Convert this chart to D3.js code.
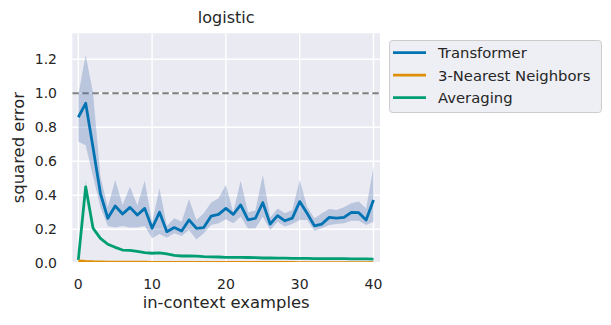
<!DOCTYPE html>
<html>
<head>
<meta charset="utf-8">
<script src="https://cdn.jsdelivr.net/npm/d3@7"></script>
<style>
  body { margin: 0; background: #fff; }
  text { font-family: "DejaVu Sans", sans-serif; fill: #262626; }
</style>
</head>
<body>
<div id="chart"></div>
<script>
// in-context examples on x
var examples = d3.range(0, 41);
var xTicks = [0, 10, 20, 30, 40];
var yTicks = [0.0, 0.2, 0.4, 0.6, 0.8, 1.0, 1.2];
var seriesNames = ["Transformer", "3-Nearest Neighbors", "Averaging"];
var seriesColors = ["#0173b2", "#de8f05", "#029e73"];

// values
var transformer = [0.859, 0.941, 0.68, 0.41, 0.265, 0.337, 0.29, 0.329, 0.284, 0.323,
    0.206, 0.30, 0.186, 0.21, 0.19, 0.255, 0.206, 0.21, 0.278, 0.288,
    0.323, 0.288, 0.343, 0.255, 0.265, 0.357, 0.231, 0.28, 0.25, 0.266,
    0.363, 0.294, 0.22, 0.231, 0.27, 0.266, 0.27, 0.30, 0.298, 0.255, 0.372];
var transformerHi = [0.99, 1.225, 1.0, 0.51, 0.33, 0.49, 0.343, 0.45, 0.34, 0.486,
    0.24, 0.44, 0.22, 0.265, 0.245, 0.378, 0.255, 0.294, 0.357, 0.382,
    0.461, 0.30, 0.486, 0.30, 0.31, 0.519, 0.27, 0.323, 0.294, 0.314,
    0.49, 0.333, 0.265, 0.294, 0.32, 0.314, 0.33, 0.353, 0.363, 0.323, 0.568];
var transformerLo = [0.715, 0.695, 0.51, 0.33, 0.22, 0.21, 0.22, 0.21, 0.21, 0.22,
    0.148, 0.172, 0.15, 0.176, 0.16, 0.196, 0.14, 0.176, 0.225, 0.235,
    0.259, 0.235, 0.274, 0.204, 0.206, 0.274, 0.196, 0.245, 0.216, 0.231,
    0.255, 0.255, 0.192, 0.206, 0.225, 0.231, 0.235, 0.25, 0.25, 0.225, 0.245];
var knn = [0.014, 0.011, 0.009, 0.008, 0.007, 0.007, 0.006, 0.006, 0.006, 0.006,
    0.005, 0.005, 0.005, 0.005, 0.005, 0.005, 0.005, 0.005, 0.005, 0.005,
    0.005, 0.005, 0.005, 0.005, 0.005, 0.005, 0.005, 0.005, 0.005, 0.005,
    0.004, 0.004, 0.004, 0.004, 0.004, 0.004, 0.004, 0.004, 0.004, 0.004, 0.004];
var averaging = [0.02, 0.45, 0.206, 0.147, 0.112, 0.094, 0.078, 0.076, 0.07, 0.063,
    0.059, 0.061, 0.055, 0.047, 0.043, 0.043, 0.042, 0.039, 0.038, 0.037,
    0.035, 0.035, 0.035, 0.034, 0.033, 0.031, 0.031, 0.030, 0.030, 0.029,
    0.029, 0.029, 0.028, 0.028, 0.027, 0.027, 0.027, 0.026, 0.026, 0.026, 0.025];
var averagingHi = [0.024, 0.49, 0.222, 0.158, 0.12, 0.1, 0.083, 0.08, 0.074, 0.067,
    0.063, 0.064, 0.058, 0.05, 0.045, 0.045, 0.044, 0.041, 0.04, 0.039,
    0.037, 0.037, 0.037, 0.036, 0.035, 0.033, 0.033, 0.032, 0.031, 0.03,
    0.03, 0.03, 0.029, 0.029, 0.028, 0.028, 0.028, 0.027, 0.027, 0.027, 0.026];
var averagingLo = [0.016, 0.41, 0.19, 0.136, 0.104, 0.088, 0.073, 0.072, 0.066, 0.059,
    0.055, 0.058, 0.052, 0.044, 0.041, 0.041, 0.04, 0.037, 0.036, 0.035,
    0.033, 0.033, 0.033, 0.032, 0.031, 0.029, 0.029, 0.028, 0.029, 0.028,
    0.028, 0.028, 0.027, 0.027, 0.026, 0.026, 0.026, 0.025, 0.025, 0.025, 0.024];
var baseline = 1.0;

var width = 611, height = 325;
var plot = {left: 72.3, right: 380, top: 33.3, bottom: 262};

var svg = d3.select("#chart").append("svg")
    .attr("width", width).attr("height", height);

var x = d3.scaleLinear().domain([-0.813, 40.88]).range([plot.left, plot.right]);
var y = d3.scaleLinear().domain([0.0076, 1.353]).range([plot.bottom, plot.top]);

// background
svg.append("rect").attr("x", plot.left).attr("y", plot.top)
    .attr("width", plot.right - plot.left).attr("height", plot.bottom - plot.top)
    .attr("fill", "#eaeaf2");

// grid
var grid = svg.append("g");
grid.selectAll(".gx").data(xTicks).enter().append("line")
    .attr("x1", d => x(d)).attr("x2", d => x(d))
    .attr("y1", plot.top).attr("y2", plot.bottom)
    .attr("stroke", "#fff").attr("stroke-width", 1.4);
grid.selectAll(".gy").data(yTicks).enter().append("line")
    .attr("x1", plot.left).attr("x2", plot.right)
    .attr("y1", d => y(d)).attr("y2", d => y(d))
    .attr("stroke", "#fff").attr("stroke-width", 1.4);

// clip
svg.append("clipPath").attr("id", "clip").append("rect")
    .attr("x", plot.left).attr("y", plot.top)
    .attr("width", plot.right - plot.left).attr("height", plot.bottom - plot.top);
var g = svg.append("g").attr("clip-path", "url(#clip)");

// baseline dashed line
g.append("line")
    .attr("x1", plot.left).attr("x2", plot.right)
    .attr("y1", y(baseline)).attr("y2", y(baseline))
    .attr("stroke", "#808080").attr("stroke-width", 2)
    .attr("stroke-dasharray", "6.5,3.5");

var area = function(lo, hi) {
    return d3.area().x(d => x(d)).y0(d => y(lo[d])).y1(d => y(hi[d]))(examples);
};
var line = function(vals) {
    return d3.line().x(d => x(d)).y(d => y(vals[d]))(examples);
};

// bands
g.append("path").attr("d", area(transformerLo, transformerHi))
    .attr("fill", "#4c72b0").attr("fill-opacity", 0.3);
g.append("path").attr("d", area(averagingLo, averagingHi))
    .attr("fill", seriesColors[2]).attr("fill-opacity", 0.2);

// lines
var allSeries = [transformer, knn, averaging];
[2, 1, 0].forEach(function(i) {
    g.append("path").attr("d", line(allSeries[i]))
        .attr("fill", "none").attr("stroke", seriesColors[i])
        .attr("stroke-width", 2.8).attr("stroke-linejoin", "round");
});

// axes labels
svg.selectAll(".xt").data(xTicks).enter().append("text")
    .attr("x", d => x(d)).attr("y", 289)
    .attr("text-anchor", "middle").attr("font-size", 14)
    .text(d => d);
svg.selectAll(".yt").data(yTicks).enter().append("text")
    .attr("x", 57).attr("y", d => y(d) + 5)
    .attr("text-anchor", "end").attr("font-size", 14)
    .text(d => d.toFixed(1));

svg.append("text").attr("x", (plot.left + plot.right) / 2).attr("y", 308)
    .attr("text-anchor", "middle").attr("font-size", 16.4)
    .text("in-context examples");
svg.append("text")
    .attr("transform", "translate(23.5," + ((plot.top + plot.bottom) / 2) + ") rotate(-90)")
    .attr("text-anchor", "middle").attr("font-size", 16.4)
    .text("squared error");
svg.append("text").attr("x", (plot.left + plot.right) / 2).attr("y", 22.5)
    .attr("text-anchor", "middle").attr("font-size", 16)
    .text("logistic");

// legend
var leg = svg.append("g");
leg.append("rect").attr("x", 389.5).attr("y", 40.5).attr("width", 212).attr("height", 72)
    .attr("rx", 3).attr("fill", "#eaeaf2").attr("fill-opacity", 0.8)
    .attr("stroke", "#cccccc").attr("stroke-width", 1);
seriesNames.forEach(function(name, i) {
    var cy = 52.7 + i * 22.5;
    leg.append("line").attr("x1", 393).attr("x2", 426).attr("y1", cy).attr("y2", cy)
        .attr("stroke", seriesColors[i]).attr("stroke-width", 2.8);
    leg.append("text").attr("x", 438).attr("y", cy + 5.3).attr("font-size", 14.8).text(name);
});
</script>
</body>
</html>
